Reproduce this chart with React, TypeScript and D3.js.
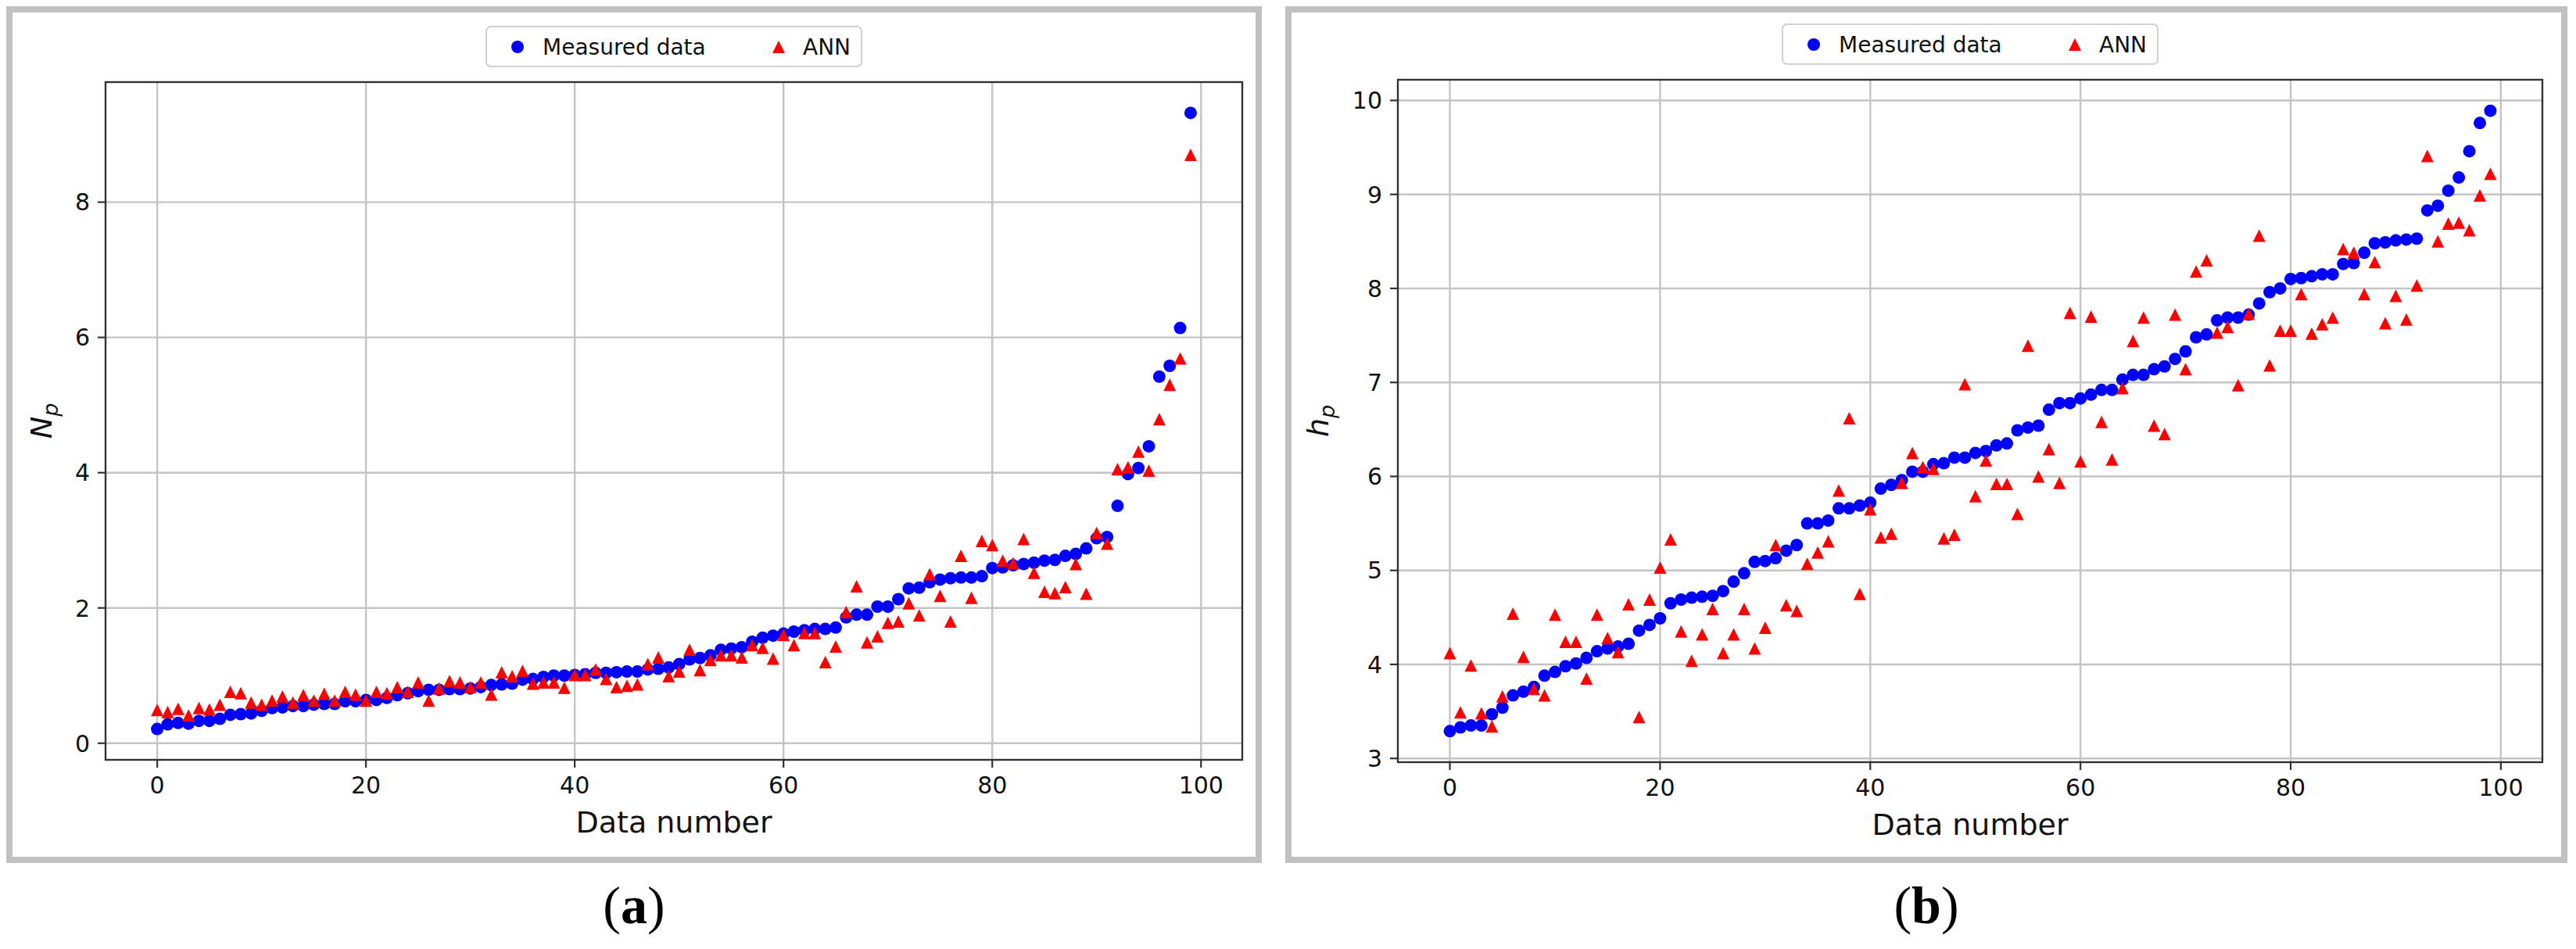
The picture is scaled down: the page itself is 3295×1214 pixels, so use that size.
import * as d3 from "d3";

// x positions: data number 0..99
const dataNumber = d3.range(100);

const measuredNp = [
  0.21, 0.28, 0.3, 0.29, 0.33, 0.33, 0.36, 0.42, 0.43, 0.44,
  0.48, 0.52, 0.53, 0.55, 0.55, 0.57, 0.58, 0.58, 0.62, 0.62,
  0.64, 0.64, 0.67, 0.71, 0.74, 0.77, 0.79, 0.79, 0.8, 0.8,
  0.81, 0.83, 0.86, 0.87, 0.88, 0.94, 0.95, 0.98, 1.0, 1.0,
  1.01, 1.02, 1.04, 1.04, 1.05, 1.06, 1.06, 1.09, 1.1, 1.12,
  1.17, 1.24, 1.26, 1.3, 1.38, 1.4, 1.42, 1.5, 1.56, 1.59,
  1.62, 1.65, 1.67, 1.69, 1.69, 1.71, 1.86, 1.9, 1.9, 2.02,
  2.02, 2.13, 2.29, 2.3, 2.38, 2.42, 2.44, 2.45, 2.45, 2.47,
  2.59, 2.6, 2.63, 2.65, 2.67, 2.7, 2.71, 2.77, 2.8, 2.88,
  3.03, 3.05, 3.51, 3.98, 4.07, 4.39, 5.42, 5.58, 6.14, 9.32,
];

const annNp = [
  0.49, 0.46, 0.51, 0.41, 0.52, 0.5, 0.57, 0.76, 0.74, 0.6,
  0.57, 0.63, 0.69, 0.6, 0.71, 0.63, 0.73, 0.63, 0.76, 0.72,
  0.63, 0.76, 0.74, 0.83, 0.76, 0.9, 0.63, 0.81, 0.92, 0.9,
  0.83, 0.9, 0.72, 1.05, 0.99, 1.07, 0.88, 0.9, 0.9, 0.82,
  1.01, 1.01, 1.09, 0.95, 0.83, 0.85, 0.87, 1.17, 1.27, 0.99,
  1.06, 1.38, 1.08, 1.23, 1.3, 1.3, 1.27, 1.45, 1.41, 1.25,
  1.6, 1.45, 1.63, 1.63, 1.2, 1.43, 1.94, 2.32, 1.49, 1.58,
  1.78, 1.8, 2.07, 1.89, 2.5, 2.18, 1.8, 2.77, 2.15, 2.99,
  2.93, 2.7, 2.66, 3.02, 2.52, 2.24, 2.22, 2.31, 2.65, 2.21,
  3.11, 2.95, 4.05, 4.08, 4.31, 4.03, 4.79, 5.3, 5.69, 8.7,
];

const measuredHp = [
  3.29, 3.33, 3.35, 3.35, 3.47, 3.54, 3.67, 3.71, 3.76, 3.88,
  3.92, 3.98, 4.01, 4.07, 4.14, 4.17, 4.19, 4.22, 4.36, 4.42,
  4.49, 4.65, 4.69, 4.71, 4.72, 4.73, 4.78, 4.88, 4.97, 5.09,
  5.1, 5.13, 5.21, 5.27, 5.5, 5.5, 5.53, 5.66, 5.66, 5.69,
  5.72, 5.87, 5.91, 5.96, 6.05, 6.05, 6.13, 6.14, 6.2, 6.2,
  6.25, 6.27, 6.33, 6.35, 6.49, 6.52, 6.54, 6.71, 6.78, 6.78,
  6.83, 6.87, 6.92, 6.92, 7.03, 7.08, 7.08, 7.14, 7.17, 7.25,
  7.33, 7.48, 7.51, 7.66, 7.69, 7.69, 7.72, 7.84, 7.96, 8.0,
  8.1, 8.11, 8.13, 8.15, 8.15, 8.26, 8.27, 8.38, 8.48, 8.49,
  8.51, 8.52, 8.53, 8.83, 8.88, 9.04, 9.18, 9.46, 9.76, 9.89,
];

const annHp = [
  4.12, 3.49, 3.99, 3.48, 3.34, 3.66, 4.54, 4.08, 3.74, 3.67,
  4.53, 4.24, 4.24, 3.85, 4.53, 4.28, 4.13, 4.64, 3.44, 4.69,
  5.03, 5.33, 4.35, 4.04, 4.32, 4.59, 4.12, 4.32, 4.59, 4.17,
  4.39, 5.27, 4.63, 4.57, 5.07, 5.19, 5.31, 5.85, 6.62, 4.75,
  5.65, 5.35, 5.39, 5.93, 6.25, 6.1, 6.08, 5.34, 5.38, 6.98,
  5.79, 6.17, 5.92, 5.92, 5.6, 7.39, 6.0, 6.29, 5.93, 7.74,
  6.16, 7.7, 6.58, 6.18, 6.94, 7.44, 7.69, 6.54, 6.45, 7.72,
  7.14, 8.18, 8.3, 7.53, 7.59, 6.97, 7.73, 8.56, 7.18, 7.55,
  7.55, 7.94, 7.52, 7.62, 7.69, 8.42, 8.38, 7.94, 8.28, 7.63,
  7.92, 7.67, 8.03, 9.41, 8.5, 8.69, 8.7, 8.62, 8.99, 9.22,
];

const xTicks = [0, 20, 40, 60, 80, 100];
const npTicks = [0, 2, 4, 6, 8];
const hpTicks = [3, 4, 5, 6, 7, 8, 9, 10];
const seriesNames = ["Measured data", "ANN"];

const FONT = "'DejaVu Sans', sans-serif";
const BLUE = "#0000ff";
const RED = "#ff0000";
const GRID = "#c4c4c4";
const INK = "#333";
const MS = 16; // marker size

// matplotlib-style autoscale: 5% margin on each side
function padded(values: number[]): [number, number] {
  const [lo, hi] = d3.extent(values) as [number, number];
  const m = (hi - lo) * 0.05;
  return [lo - m, hi + m];
}

const triPath = `M0,${-MS / 2}L${MS / 2},${MS / 2}L${-MS / 2},${MS / 2}Z`;

function Panel({ box, frame, measured, ann, yTicks, yName, yLabelX, tag }) {
  const { left, right, top, bottom } = box;
  const x = d3.scaleLinear().domain(padded(dataNumber)).range([left, right]);
  const y = d3.scaleLinear().domain(padded([...measured, ...ann])).range([bottom, top]);
  const cx = (left + right) / 2;
  const cy = (top + bottom) / 2;
  const legW = 480;
  const legL = cx - legW / 2;
  const legTop = top - 71;

  return (
    <g>
      <rect x={frame.x} y={frame.y} width={frame.w} height={frame.h} fill="none" stroke="#c0c0c0" strokeWidth={8} />

      {/* grid */}
      {xTicks.map((t) => (
        <line key={"gx" + t} x1={x(t)} x2={x(t)} y1={top} y2={bottom} stroke={GRID} strokeWidth={2.4} />
      ))}
      {yTicks.map((t) => (
        <line key={"gy" + t} x1={left} x2={right} y1={y(t)} y2={y(t)} stroke={GRID} strokeWidth={2.4} />
      ))}

      {/* series */}
      {measured.map((v, i) => (
        <circle key={"m" + i} cx={x(dataNumber[i])} cy={y(v)} r={MS / 2} fill={BLUE} />
      ))}
      {ann.map((v, i) => (
        <path key={"a" + i} d={triPath} transform={`translate(${x(dataNumber[i])},${y(v)})`} fill={RED} />
      ))}

      {/* spines */}
      <rect x={left} y={top} width={right - left} height={bottom - top} fill="none" stroke={INK} strokeWidth={2.4} />

      {/* x ticks */}
      {xTicks.map((t) => (
        <g key={"tx" + t}>
          <line x1={x(t)} x2={x(t)} y1={bottom} y2={bottom + 10} stroke={INK} strokeWidth={2.2} />
          <text x={x(t)} y={bottom + 43} textAnchor="middle" fontFamily={FONT} fontSize={30} fill="#111">
            {t}
          </text>
        </g>
      ))}
      {/* y ticks */}
      {yTicks.map((t) => (
        <g key={"ty" + t}>
          <line x1={left - 10} x2={left} y1={y(t)} y2={y(t)} stroke={INK} strokeWidth={2.2} />
          <text x={left - 20} y={y(t)} dy="0.36em" textAnchor="end" fontFamily={FONT} fontSize={30} fill="#111">
            {t}
          </text>
        </g>
      ))}

      <text x={cx} y={bottom + 93} textAnchor="middle" fontFamily={FONT} fontSize={38} fill="#111">
        Data number
      </text>
      <text
        transform={`translate(${yLabelX},${cy}) rotate(-90)`}
        textAnchor="middle"
        fontFamily={FONT}
        fontSize={38}
        fill="#111"
      >
        <tspan fontStyle="italic">{yName}</tspan>
        <tspan fontStyle="italic" fontSize={27} dy={8}>p</tspan>
      </text>

      {/* legend */}
      <rect x={legL} y={legTop} width={legW} height={51} rx={6} fill="#fff" fillOpacity={0.8} stroke="#d0d0d0" strokeWidth={2} />
      <circle cx={legL + 40} cy={legTop + 26} r={MS / 2} fill={BLUE} />
      <text x={legL + 72} y={legTop + 36} fontFamily={FONT} fontSize={28} fill="#111">
        {seriesNames[0]}
      </text>
      <path d={triPath} transform={`translate(${legL + 374},${legTop + 26})`} fill={RED} />
      <text x={legL + 405} y={legTop + 36} fontFamily={FONT} fontSize={28} fill="#111">
        {seriesNames[1]}
      </text>

      {/* panel tag */}
      <text x={frame.x + frame.w / 2} y={1181} textAnchor="middle" fontFamily="'Liberation Serif', serif" fontSize={68} fill="#000">
        (<tspan fontWeight="bold">{tag}</tspan>)
      </text>
    </g>
  );
}

export default function App() {
  return (
    <svg
      width={3295}
      height={1214}
      style={{ position: "absolute", left: 0, top: 0, background: "#fff" }}
    >
      <Panel
        box={{ left: 135, right: 1589, top: 105, bottom: 972 }}
        frame={{ x: 12, y: 12, w: 1598, h: 1088 }}
        measured={measuredNp}
        ann={annNp}
        yTicks={npTicks}
        yName="N"
        yLabelX={66}
        tag="a"
      />
      <Panel
        box={{ left: 1788, right: 3252, top: 102, bottom: 975 }}
        frame={{ x: 1648, y: 12, w: 1632, h: 1088 }}
        measured={measuredHp}
        ann={annHp}
        yTicks={hpTicks}
        yName="h"
        yLabelX={1699}
        tag="b"
      />
    </svg>
  );
}
